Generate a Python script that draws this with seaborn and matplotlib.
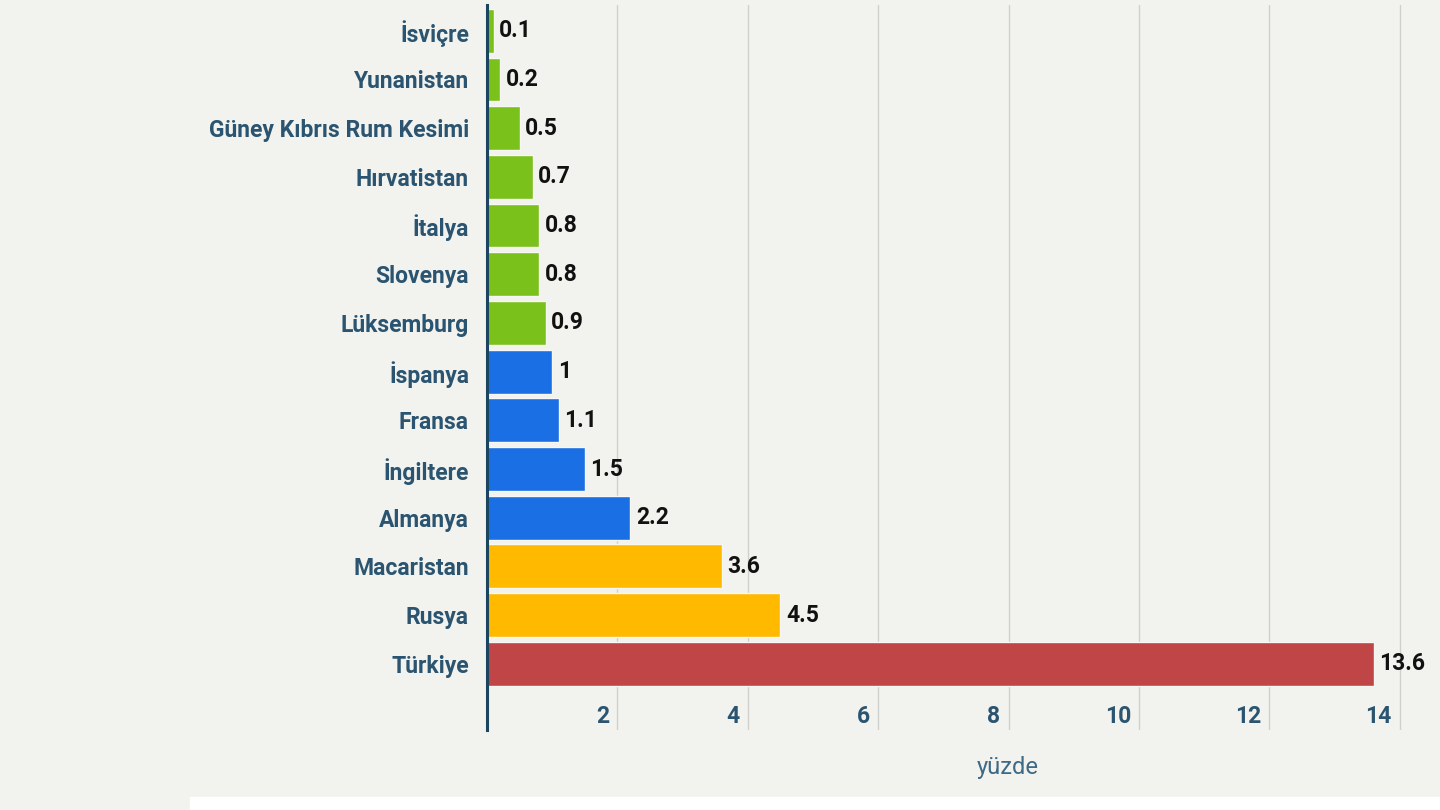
import pandas as pd
import numpy as np
import seaborn as sns
import matplotlib.pyplot as plt
import matplotlib.transforms as mtransforms

countries = ["İsviçre", "Yunanistan", "Güney Kıbrıs Rum Kesimi", "Hırvatistan", "İtalya",
             "Slovenya", "Lüksemburg", "İspanya", "Fransa", "İngiltere", "Almanya",
             "Macaristan", "Rusya", "Türkiye"]
values = [0.1, 0.2, 0.5, 0.7, 0.8, 0.8, 0.9, 1, 1.1, 1.5, 2.2, 3.6, 4.5, 13.6]
groups = ["g", "g", "g", "g", "g", "g", "g", "b", "b", "b", "b", "y", "y", "r"]
xticks = [2, 4, 6, 8, 10, 12, 14]

palette = {"g": "#7bc11c", "b": "#1b6fe4", "y": "#ffba00", "r": "#bf4547"}
label_color = "#2a5470"
bg = "#f2f2ee"

df = pd.DataFrame({"Country": countries, "Value": values, "Group": groups})

sns.set_style("white")
plt.rcParams["font.family"] = ["Roboto", "DejaVu Sans"]

fig = plt.figure(figsize=(14.4, 8.1), dpi=100, facecolor=bg)
ax = fig.add_axes([487 / 1440, 1 - 730 / 810, 916 / 1440, 725 / 810])
ax.set_facecolor(bg)

sns.barplot(data=df, y="Country", x="Value", hue="Group", palette=palette, orient="h",
            dodge=False, legend=False, width=0.9, saturation=1, edgecolor="#f7f7f3",
            linewidth=1, ax=ax)

for c in ax.containers:
    ax.bar_label(c, fmt="{:g}", padding=4, fontsize=16.5, fontweight="bold", color="#111111")

ax.set_xlim(0, 14.05)
ax.set_ylim(14.36, -0.53)
ax.set_xticks(xticks)
ax.set_xticklabels([str(t) for t in xticks])
ax.grid(axis="x", color="#d0d0cc", linewidth=1)
ax.set_axisbelow(True)
for s in ["top", "right", "bottom"]:
    ax.spines[s].set_visible(False)
ax.spines["left"].set_color("#1c4560")
ax.spines["left"].set_linewidth(2.2)

ax.tick_params(axis="y", length=0, pad=13, labelsize=16.5, labelcolor=label_color)
ax.tick_params(axis="x", length=0, pad=-18, labelsize=16.5, labelcolor=label_color)
for lab in ax.get_yticklabels():
    lab.set_fontweight("bold")
shift = mtransforms.ScaledTranslation(-8 / 100, 0, fig.dpi_scale_trans)
for lab in ax.get_xticklabels():
    lab.set_fontweight("bold")
    lab.set_horizontalalignment("right")
    lab.set_transform(lab.get_transform() + shift)

ax.set_ylabel("")
ax.set_xlabel("yüzde", fontsize=17, color="#3d6a86")
ax.xaxis.set_label_coords(0.569, -0.036)

fig.patches.append(plt.Rectangle((190 / 1440, 0), 1 - 190 / 1440, 13 / 810,
                                 transform=fig.transFigure, color="white", zorder=-1))

fig.savefig("out.png", dpi=100, facecolor=bg)
